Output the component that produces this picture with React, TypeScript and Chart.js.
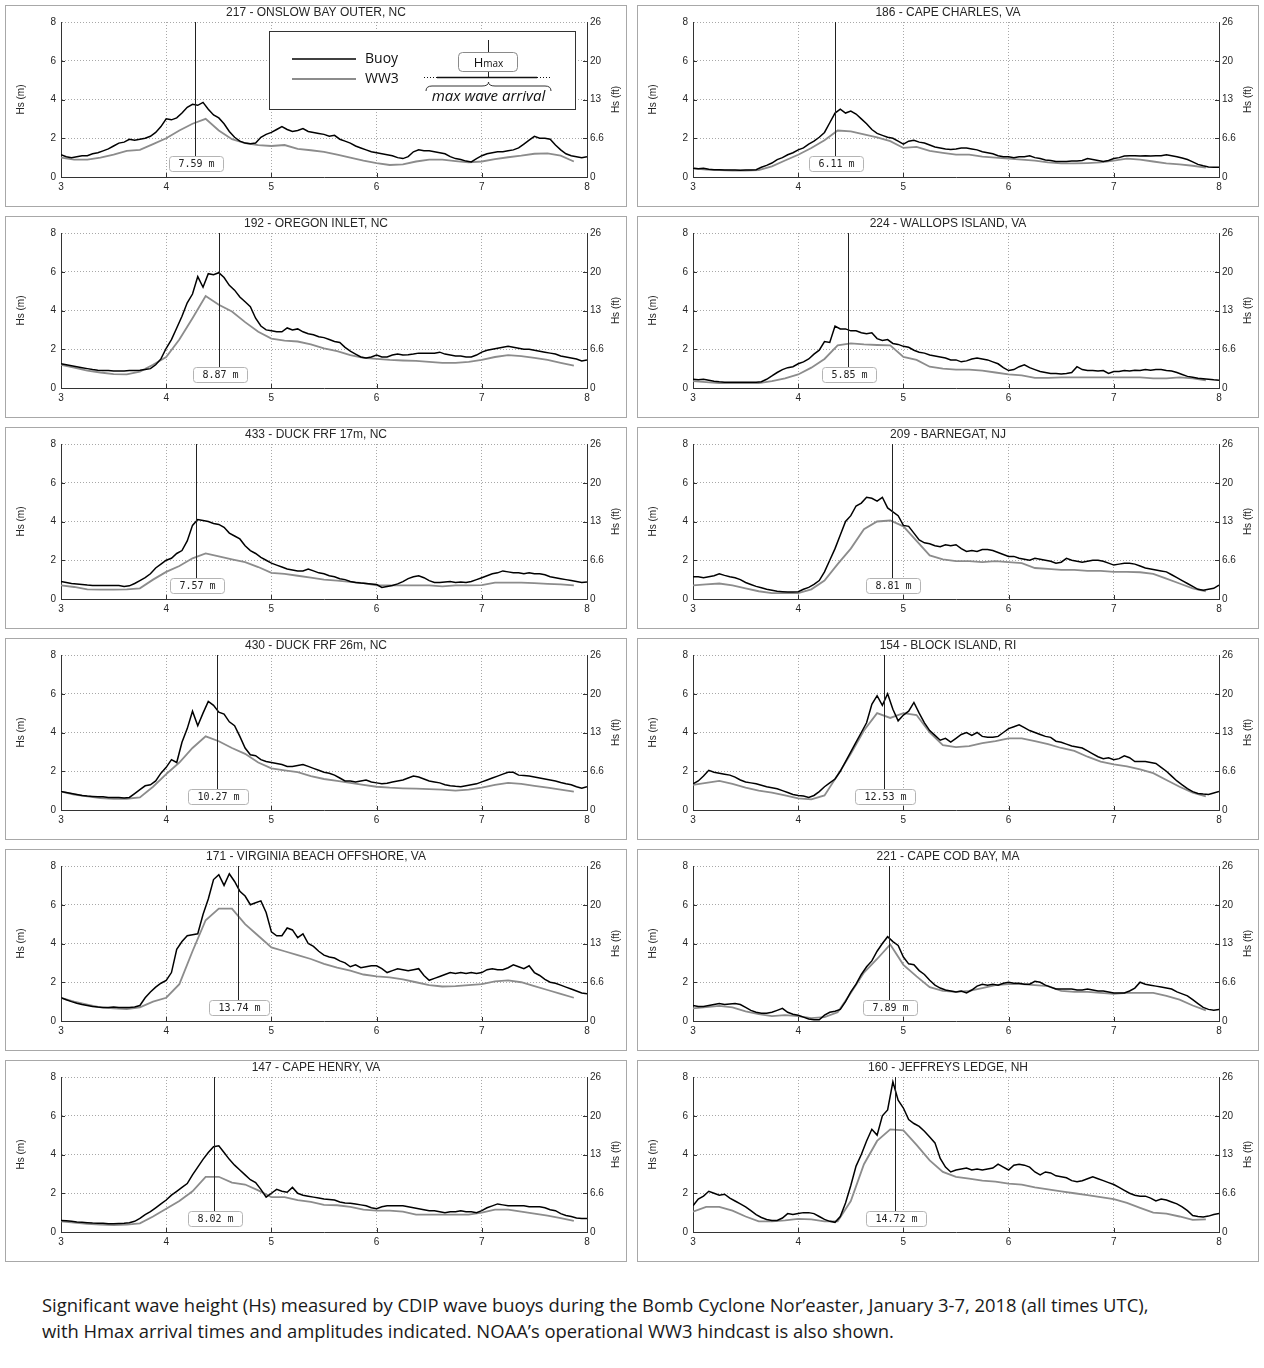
import React, { useEffect, useRef } from 'react';
import { Chart, registerables } from 'chart.js';

Chart.register(...registerables);

// ---------- data ----------
const T_START = 3;
const BUOY_STEP = 0.05; // days between buoy samples
const WW3_STEP = 0.125; // days between WW3 samples (3-hourly)
const FT_TICK_LABELS = ['0', '6.6', '13', '20', '26'];

const TITLES = [
  '217 - ONSLOW BAY OUTER, NC', '186 - CAPE CHARLES, VA',
  '192 - OREGON INLET, NC', '224 - WALLOPS ISLAND, VA',
  '433 - DUCK FRF 17m, NC', '209 - BARNEGAT, NJ',
  '430 - DUCK FRF 26m, NC', '154 - BLOCK ISLAND, RI',
  '171 - VIRGINIA BEACH OFFSHORE, VA', '221 - CAPE COD BAY, MA',
  '147 - CAPE HENRY, VA', '160 - JEFFREYS LEDGE, NH',
];
const HMAX_TIMES = [4.27, 4.35, 4.5, 4.47, 4.28, 4.89, 4.48, 4.82, 4.68, 4.86, 4.45, 4.92];
const HMAX_LABELS = ['7.59 m', '6.11 m', '8.87 m', '5.85 m', '7.57 m', '8.81 m', '10.27 m', '12.53 m', '13.74 m', '7.89 m', '8.02 m', '14.72 m'];

const BUOY_217 = [
  1.15, 1.05, 1.0, 1.05, 1.1, 1.1, 1.2, 1.25, 1.35, 1.45,
  1.6, 1.75, 1.8, 1.95, 1.9, 1.95, 2.0, 2.1, 2.3, 2.6,
  3.0, 2.95, 3.05, 3.3, 3.6, 3.75, 3.7, 3.85, 3.5, 3.2,
  3.05, 2.75, 2.35, 2.05, 1.85, 1.75, 1.72, 1.75, 2.05, 2.2,
  2.3, 2.45, 2.6, 2.45, 2.35, 2.4, 2.5, 2.35, 2.3, 2.25,
  2.2, 2.1, 2.15, 1.95, 1.85, 1.75, 1.6, 1.5, 1.4, 1.3,
  1.25, 1.2, 1.15, 1.1, 1.0, 0.95, 1.05, 1.3, 1.4, 1.35,
  1.35, 1.3, 1.25, 1.2, 1.05, 0.95, 0.9, 0.82, 0.78, 0.95,
  1.1, 1.2, 1.25, 1.3, 1.3, 1.35, 1.4, 1.5, 1.7, 1.9,
  2.1, 2.0, 2.0, 1.95, 1.65, 1.4, 1.2, 1.1, 1.05, 1.0,
  1.05,
];
const WW3_217 = [
  1.0, 0.9, 0.9, 1.0, 1.15, 1.35, 1.4, 1.7,
  2.0, 2.4, 2.75, 3.0, 2.4, 1.95, 1.75, 1.65,
  1.6, 1.65, 1.45, 1.38, 1.3, 1.15, 1.0, 0.85,
  0.72, 0.62, 0.65, 0.8, 0.9, 0.9, 0.82, 0.75,
  0.8, 0.92, 1.02, 1.1, 1.2, 1.22, 1.1, 0.8,
];

const BUOY_186 = [
  0.45, 0.42, 0.45, 0.4, 0.38, 0.38, 0.36, 0.36, 0.36, 0.35,
  0.36, 0.36, 0.38, 0.5, 0.6, 0.72, 0.9, 1.0, 1.15, 1.25,
  1.4, 1.5, 1.7, 1.85, 2.05, 2.3, 2.8, 3.3, 3.5, 3.3,
  3.4, 3.25, 3.0, 2.75, 2.45, 2.25, 2.15, 2.05, 2.0, 1.85,
  1.7, 1.85, 1.9, 1.8, 1.75, 1.65, 1.55, 1.5, 1.45, 1.42,
  1.45, 1.5, 1.5, 1.45, 1.4, 1.3, 1.25, 1.2, 1.1, 1.05,
  1.05, 1.0, 1.05, 1.05, 1.1, 1.0, 0.95, 0.88, 0.85, 0.8,
  0.8, 0.8, 0.82, 0.82, 0.85, 0.95, 0.9, 0.85, 0.8, 0.85,
  0.95, 1.0, 1.08, 1.1, 1.1, 1.08, 1.1, 1.08, 1.1, 1.1,
  1.15, 1.1, 1.05, 0.98, 0.9, 0.78, 0.65, 0.58, 0.52, 0.5,
  0.5,
];
const WW3_186 = [
  0.45, 0.38, 0.35, 0.33, 0.33, 0.35, 0.55, 0.85,
  1.15, 1.5, 1.9, 2.4, 2.35, 2.2, 2.05, 1.85,
  1.5, 1.55, 1.35, 1.25, 1.15, 1.15, 1.05, 1.0,
  0.95, 0.9, 0.85, 0.75, 0.7, 0.7, 0.72, 0.75,
  0.85, 0.95, 0.9, 0.8, 0.7, 0.65, 0.58, 0.48,
];

const BUOY_192 = [
  1.25, 1.2, 1.15, 1.1, 1.05, 1.0, 0.95, 0.92, 0.9, 0.9,
  0.88, 0.88, 0.88, 0.9, 0.9, 0.92, 0.95, 1.0, 1.2, 1.5,
  2.05, 2.5, 3.1, 3.7, 4.4, 4.85, 5.75, 5.2, 5.9, 5.85,
  5.95, 5.7, 5.3, 5.05, 4.7, 4.45, 4.2, 3.6, 3.2, 3.0,
  2.95, 2.9, 2.9, 3.1, 3.0, 3.05, 2.9, 2.8, 2.75, 2.65,
  2.6, 2.5, 2.4, 2.35, 2.1, 1.9, 1.75, 1.6, 1.55, 1.6,
  1.7, 1.6, 1.6, 1.7, 1.75, 1.7, 1.72, 1.75, 1.8, 1.8,
  1.8, 1.8, 1.85, 1.75, 1.7, 1.65, 1.65, 1.6, 1.6, 1.7,
  1.85, 1.95, 2.0, 2.05, 2.1, 2.15, 2.1, 2.05, 2.0, 2.0,
  1.95, 1.9, 1.85, 1.8, 1.75, 1.65, 1.6, 1.55, 1.5, 1.4,
  1.45,
];
const WW3_192 = [
  1.2, 1.05, 0.9, 0.8, 0.72, 0.7, 0.85, 1.2,
  1.6, 2.5, 3.6, 4.75, 4.3, 3.95, 3.4, 2.9,
  2.55, 2.45, 2.4, 2.25, 2.05, 1.9, 1.7, 1.55,
  1.5, 1.45, 1.42, 1.4, 1.35, 1.3, 1.3, 1.35,
  1.45, 1.6, 1.7, 1.65, 1.55, 1.45, 1.3, 1.15,
];

const BUOY_224 = [
  0.45, 0.42, 0.45, 0.4, 0.35, 0.32, 0.3, 0.3, 0.3, 0.3,
  0.3, 0.3, 0.3, 0.32, 0.45, 0.62, 0.8, 0.95, 1.05, 1.1,
  1.25, 1.35, 1.5, 1.75, 1.95, 2.4, 2.35, 3.2, 3.05, 3.05,
  2.95, 2.95, 2.85, 2.8, 2.85, 2.55, 2.45, 2.5, 2.3, 2.25,
  2.15, 2.1, 1.95, 1.85, 1.8, 1.7, 1.65, 1.6, 1.55, 1.45,
  1.45, 1.35, 1.4, 1.5, 1.55, 1.5, 1.45, 1.35, 1.25, 1.05,
  0.9, 0.95, 1.1, 1.2, 1.05, 0.95, 0.85, 0.8, 0.75, 0.75,
  0.72, 0.75, 0.8, 1.1, 0.95, 0.9, 0.9, 0.88, 0.9, 0.75,
  0.85, 0.85, 0.9, 0.88, 0.92, 0.9, 0.95, 0.92, 0.95, 0.95,
  0.9, 0.88, 0.8, 0.7, 0.6, 0.55, 0.5, 0.48, 0.45, 0.42,
  0.4,
];
const WW3_224 = [
  0.35, 0.3, 0.25, 0.25, 0.25, 0.25, 0.35, 0.5,
  0.7, 1.05, 1.5, 2.2, 2.3, 2.25, 2.22, 2.2,
  1.6, 1.45, 1.1, 1.0, 0.95, 0.95, 0.9, 0.8,
  0.7, 0.65, 0.52, 0.52, 0.55, 0.55, 0.55, 0.55,
  0.55, 0.55, 0.55, 0.5, 0.5, 0.55, 0.5, 0.4,
];

const BUOY_433 = [
  0.9, 0.85, 0.8, 0.78, 0.75, 0.72, 0.7, 0.7, 0.7, 0.7,
  0.7, 0.7, 0.65, 0.68, 0.8, 0.95, 1.1, 1.3, 1.6, 1.8,
  2.0, 2.1, 2.35, 2.5, 3.0, 3.8, 4.1, 4.05, 4.0, 3.9,
  3.85, 3.7, 3.4, 3.25, 3.1, 2.75, 2.5, 2.35, 2.15, 2.0,
  1.85, 1.75, 1.65, 1.55, 1.5, 1.45, 1.45, 1.55, 1.45, 1.35,
  1.3, 1.2, 1.15, 1.05, 1.0, 0.9, 0.85, 0.82, 0.8, 0.78,
  0.75, 0.6, 0.65, 0.7, 0.78, 0.9, 1.05, 1.15, 1.2, 1.1,
  0.95, 0.85, 0.85, 0.88, 0.9, 0.85, 0.88, 0.85, 0.9, 1.0,
  1.1, 1.2, 1.3, 1.35, 1.45, 1.4, 1.35, 1.35, 1.3, 1.35,
  1.3, 1.3, 1.25, 1.15, 1.1, 1.05, 1.0, 0.95, 0.9, 0.85,
  0.88,
];
const WW3_433 = [
  0.7, 0.62, 0.5, 0.48, 0.48, 0.5, 0.55, 1.0,
  1.4, 1.7, 2.1, 2.35, 2.2, 2.05, 1.9, 1.65,
  1.35, 1.3, 1.2, 1.1, 1.0, 0.95, 0.88, 0.82,
  0.7, 0.7, 0.7, 0.7, 0.7, 0.65, 0.7, 0.7,
  0.72, 0.85, 0.85, 0.85, 0.82, 0.78, 0.75, 0.7,
];

const BUOY_209 = [
  1.15, 1.15, 1.1, 1.15, 1.2, 1.3, 1.22, 1.15, 1.1, 1.0,
  0.85, 0.75, 0.65, 0.58, 0.5, 0.45, 0.4, 0.38, 0.36, 0.36,
  0.38, 0.5, 0.6, 0.75, 0.95, 1.4, 2.0, 2.6, 3.3, 4.0,
  4.3, 4.8, 4.95, 5.25, 5.2, 5.05, 5.25, 4.7, 4.5, 4.3,
  3.8, 3.75, 3.4, 3.05, 2.9, 2.85, 2.75, 2.7, 2.8, 2.75,
  2.8, 2.6, 2.45, 2.5, 2.45, 2.55, 2.55, 2.5, 2.4, 2.3,
  2.2, 2.2, 2.1, 2.05, 2.0, 2.1, 2.05, 2.0, 1.95, 1.85,
  1.9, 2.1, 2.0, 1.95, 1.9, 1.95, 2.0, 2.0, 1.95, 1.85,
  1.75, 1.8, 1.85, 1.85, 1.8, 1.7, 1.6, 1.55, 1.5, 1.45,
  1.4, 1.25, 1.1, 0.95, 0.8, 0.65, 0.5, 0.45, 0.5, 0.55,
  0.72,
];
const WW3_209 = [
  0.7, 0.75, 0.8, 0.7, 0.55, 0.4, 0.3, 0.3,
  0.3, 0.5, 0.95, 1.8, 2.6, 3.6, 4.0, 4.05,
  3.75, 3.0, 2.25, 2.05, 1.95, 1.95, 1.9, 1.95,
  1.9, 1.85, 1.6, 1.55, 1.5, 1.5, 1.45, 1.45,
  1.4, 1.4, 1.38, 1.3, 1.05, 0.8, 0.55, 0.4,
];

const BUOY_430 = [
  0.95, 0.9, 0.85, 0.8, 0.75, 0.72, 0.7, 0.68, 0.68, 0.65,
  0.65, 0.65, 0.62, 0.65, 0.85, 1.05, 1.25, 1.3, 1.5, 1.9,
  2.2, 2.6, 2.45, 3.5, 4.2, 5.1, 4.35, 5.0, 5.6, 5.4,
  5.05, 4.95, 4.55, 4.35, 3.8, 3.2, 2.85, 2.8, 2.6, 2.5,
  2.45, 2.4, 2.35, 2.25, 2.25, 2.3, 2.35, 2.25, 2.15, 2.05,
  1.95, 1.9, 1.8, 1.65, 1.5, 1.5, 1.45, 1.5, 1.55, 1.45,
  1.4, 1.35, 1.38, 1.45, 1.5, 1.55, 1.65, 1.75, 1.7, 1.6,
  1.5, 1.45, 1.4, 1.3, 1.25, 1.22, 1.2, 1.25, 1.3, 1.35,
  1.45, 1.55, 1.65, 1.75, 1.85, 1.95, 1.95, 1.8, 1.78, 1.75,
  1.7, 1.65, 1.6, 1.55, 1.5, 1.42, 1.35, 1.3, 1.2, 1.12,
  1.2,
];
const WW3_430 = [
  0.95, 0.8, 0.7, 0.62, 0.58, 0.58, 0.65, 1.2,
  1.85, 2.45, 3.2, 3.8, 3.55, 3.2, 2.9, 2.45,
  2.15, 2.05, 1.95, 1.75, 1.6, 1.5, 1.4, 1.3,
  1.2, 1.15, 1.12, 1.1, 1.08, 1.05, 1.0, 1.05,
  1.15, 1.3, 1.4, 1.35, 1.25, 1.15, 1.05, 0.95,
];

const BUOY_154 = [
  1.35, 1.5, 1.75, 2.05, 1.95, 1.9, 1.85, 1.8, 1.7, 1.55,
  1.45, 1.4, 1.35, 1.28, 1.2, 1.15, 1.1, 1.0, 0.9, 0.8,
  0.75, 0.72, 0.65, 0.75, 0.95, 1.2, 1.4, 1.6, 2.0, 2.5,
  3.0, 3.5, 4.0, 4.5, 5.45, 5.9, 5.4, 6.0, 5.2, 4.6,
  4.9, 5.1, 5.55, 5.0, 4.5, 4.1, 3.85, 3.6, 3.7, 3.5,
  3.7, 3.9, 4.0, 3.85, 4.0, 3.8, 3.75, 3.75, 3.8, 4.0,
  4.2, 4.3, 4.4, 4.25, 4.1, 4.0, 3.9, 3.8, 3.75, 3.55,
  3.5, 3.4, 3.3, 3.25, 3.2, 3.05, 2.9, 2.75, 2.65, 2.7,
  2.6, 2.65, 2.8, 2.7, 2.5, 2.5, 2.5, 2.45, 2.4, 2.2,
  2.0, 1.75, 1.5, 1.3, 1.1, 0.95, 0.85, 0.82, 0.8, 0.88,
  0.95,
];
const WW3_154 = [
  1.3, 1.4, 1.5, 1.35, 1.15, 1.0, 0.9, 0.75,
  0.6, 0.55, 0.75, 1.8, 2.9, 4.1, 5.0, 4.75,
  5.0, 4.9, 4.0, 3.35, 3.25, 3.3, 3.45, 3.55,
  3.7, 3.7, 3.55, 3.4, 3.2, 3.05, 2.75, 2.5,
  2.35, 2.25, 2.1, 1.9, 1.55, 1.2, 0.9, 0.7,
];

const BUOY_171 = [
  1.2, 1.1, 1.0, 0.92, 0.85, 0.8, 0.75, 0.72, 0.7, 0.7,
  0.72, 0.7, 0.7, 0.7, 0.72, 0.8, 1.2, 1.5, 1.75, 1.95,
  2.1, 2.5, 3.7, 4.1, 4.4, 4.45, 4.5, 5.5, 6.3, 7.3,
  7.55, 7.0, 7.6, 7.2, 6.7, 6.45, 6.0, 6.1, 6.2, 5.6,
  4.6, 4.4, 4.4, 4.8, 4.7, 4.3, 4.5, 4.0, 3.85, 3.6,
  3.4, 3.3, 3.25, 3.1, 3.0, 2.8, 2.9, 2.75, 2.8, 2.85,
  2.85, 2.7, 2.5, 2.6, 2.7, 2.65, 2.6, 2.65, 2.7, 2.35,
  2.1, 2.2, 2.3, 2.4, 2.5, 2.45, 2.5, 2.45, 2.5, 2.45,
  2.5, 2.65, 2.7, 2.65, 2.65, 2.75, 2.9, 2.8, 2.7, 2.85,
  2.5, 2.35, 2.15, 2.0, 1.95, 1.85, 1.75, 1.65, 1.55, 1.45,
  1.4,
];
const WW3_171 = [
  1.2, 1.0, 0.85, 0.7, 0.65, 0.62, 0.7, 1.0,
  1.2, 1.9, 3.6, 5.2, 5.8, 5.8, 5.0, 4.4,
  3.8, 3.6, 3.4, 3.2, 2.95, 2.75, 2.6, 2.4,
  2.3, 2.25, 2.15, 2.0, 1.85, 1.78, 1.8, 1.85,
  1.9, 2.05, 2.1, 2.0, 1.8, 1.6, 1.4, 1.2,
];

const BUOY_221 = [
  0.8, 0.75, 0.75, 0.8, 0.85, 0.9, 0.85, 0.88, 0.9, 0.85,
  0.7, 0.55, 0.45, 0.4, 0.4, 0.45, 0.55, 0.65, 0.45, 0.35,
  0.3, 0.2, 0.1, 0.06, 0.06, 0.3, 0.45, 0.5, 0.6, 1.0,
  1.5, 1.9, 2.4, 2.8, 3.1, 3.6, 4.0, 4.35, 4.1, 3.9,
  3.3, 2.95, 2.9, 2.6, 2.4, 2.1, 1.85, 1.7, 1.6, 1.55,
  1.5, 1.55, 1.45, 1.6, 1.8, 1.9, 1.85, 1.9, 1.85, 1.95,
  2.0, 1.95, 1.95, 1.9, 1.9, 2.05, 2.0, 1.85, 1.75, 1.65,
  1.65, 1.65, 1.65, 1.6, 1.6, 1.65, 1.6, 1.55, 1.55, 1.5,
  1.45, 1.45, 1.45, 1.55, 1.7, 2.0, 1.9, 1.85, 1.8, 1.75,
  1.7, 1.65, 1.5, 1.4, 1.3, 1.1, 0.9, 0.7, 0.6, 0.55,
  0.6,
];
const WW3_221 = [
  0.65, 0.72, 0.78, 0.7, 0.5, 0.35, 0.25, 0.3,
  0.25, 0.15, 0.2, 0.45, 1.45, 2.5, 3.2, 3.95,
  2.9, 2.3, 1.75, 1.55, 1.5, 1.55, 1.7, 1.85,
  1.9, 1.9, 1.85, 1.8, 1.55, 1.5, 1.5, 1.45,
  1.4, 1.45, 1.45, 1.45, 1.3, 1.1, 0.8, 0.55,
];

const BUOY_147 = [
  0.6, 0.58, 0.55, 0.52, 0.5, 0.48, 0.46, 0.45, 0.45, 0.42,
  0.42, 0.44, 0.45, 0.48, 0.55, 0.7, 0.9, 1.05, 1.25, 1.45,
  1.65, 1.9, 2.1, 2.3, 2.5, 2.95, 3.35, 3.75, 4.1, 4.4,
  4.45, 4.1, 3.75, 3.45, 3.2, 2.95, 2.7, 2.55, 2.2, 1.8,
  2.0, 2.2, 2.1, 2.05, 2.3, 2.0, 1.9, 1.85, 1.8, 1.75,
  1.7, 1.68, 1.65, 1.55, 1.5, 1.48, 1.45, 1.4, 1.35, 1.25,
  1.2, 1.3, 1.35, 1.35, 1.35, 1.35, 1.3, 1.25, 1.2, 1.15,
  1.1, 1.1, 1.05, 1.0, 1.05, 1.05, 1.1, 1.05, 1.05, 1.0,
  1.1, 1.25, 1.35, 1.45, 1.4, 1.35, 1.35, 1.35, 1.35, 1.3,
  1.3, 1.3, 1.25, 1.15, 1.1, 0.95, 0.85, 0.8, 0.72, 0.7,
  0.7,
];
const WW3_147 = [
  0.55, 0.48, 0.42, 0.38, 0.35, 0.38, 0.45, 0.8,
  1.2, 1.6, 2.1, 2.85, 2.85, 2.55, 2.45, 2.15,
  1.8, 1.8, 1.65, 1.55, 1.4, 1.38, 1.3, 1.15,
  1.1, 1.1, 1.05, 0.9, 0.9, 0.9, 0.9, 0.9,
  1.0, 1.15, 1.15, 1.05, 0.95, 0.85, 0.72, 0.58,
];

const BUOY_160 = [
  1.35, 1.7, 1.85, 2.1, 2.0, 1.9, 1.95, 1.75, 1.6, 1.45,
  1.3, 1.1, 0.9, 0.75, 0.65, 0.6, 0.6, 0.72, 0.95, 0.9,
  0.95, 1.0, 1.0, 0.95, 0.8, 0.65, 0.55, 0.5, 0.8, 1.5,
  2.4, 3.4, 4.0, 4.7, 5.3, 5.0, 6.0, 6.3, 7.75, 6.8,
  6.4, 5.8, 5.6, 5.45, 5.2, 4.9, 4.6, 3.8, 3.35, 3.1,
  3.2, 3.25, 3.3, 3.2, 3.25, 3.2, 3.25, 3.3, 3.5, 3.35,
  3.2, 3.45, 3.5, 3.45, 3.35, 3.1, 2.95, 3.1, 3.05, 2.9,
  2.85, 2.8, 2.65, 2.6, 2.65, 2.75, 2.85, 2.75, 2.65, 2.55,
  2.45, 2.3, 2.15, 2.0, 1.9, 1.85, 1.85, 1.75, 1.6, 1.7,
  1.65, 1.55, 1.45, 1.3, 1.1, 0.85, 0.8, 0.78, 0.82, 0.9,
  0.95,
];
const WW3_160 = [
  1.05, 1.3, 1.3, 1.1, 0.8, 0.55, 0.55, 0.6,
  0.68, 0.65, 0.55, 0.55, 1.6, 3.5, 4.7, 5.3,
  5.25, 4.5, 3.7, 3.1, 2.85, 2.75, 2.65, 2.6,
  2.5, 2.45, 2.3, 2.2, 2.1, 2.0, 1.9, 1.8,
  1.7, 1.5, 1.25, 1.0, 0.95, 0.8, 0.63, 0.65,
];

const BUOY_SERIES = [BUOY_217, BUOY_186, BUOY_192, BUOY_224, BUOY_433, BUOY_209, BUOY_430, BUOY_154, BUOY_171, BUOY_221, BUOY_147, BUOY_160];
const WW3_SERIES = [WW3_217, WW3_186, WW3_192, WW3_224, WW3_433, WW3_209, WW3_430, WW3_154, WW3_171, WW3_221, WW3_147, WW3_160];

// ---------- styles ----------
const FONT = '"Liberation Sans", Arial, sans-serif';
const BUOY_COLOR = '#000000';
const WW3_COLOR = '#8c8c8c';
const GRID_COLOR = '#a8a8a8';
const AXIS_COLOR = '#333333';
const TEXT_COLOR = '#262626';
const CANVAS_W = 620;
const CANVAS_H = 200;

function drawLegend(ctx: CanvasRenderingContext2D) {
  ctx.save();
  ctx.fillStyle = '#ffffff';
  ctx.fillRect(263.5, 25.5, 306, 78);
  ctx.strokeStyle = '#333';
  ctx.lineWidth = 1;
  ctx.strokeRect(263.5, 25.5, 306, 78);

  ctx.lineWidth = 1.6;
  ctx.strokeStyle = BUOY_COLOR;
  ctx.beginPath(); ctx.moveTo(286, 53); ctx.lineTo(350, 53); ctx.stroke();
  ctx.strokeStyle = WW3_COLOR;
  ctx.lineWidth = 1.8;
  ctx.beginPath(); ctx.moveTo(286, 73); ctx.lineTo(350, 73); ctx.stroke();

  ctx.fillStyle = '#111';
  ctx.font = '14px "Open Sans", sans-serif';
  ctx.textAlign = 'left';
  ctx.textBaseline = 'middle';
  ctx.fillText('Buoy', 359, 53);
  ctx.fillText('WW3', 359, 73);

  const cx = 482.5;
  ctx.strokeStyle = '#222';
  ctx.lineWidth = 1;
  ctx.beginPath();
  ctx.moveTo(cx, 34); ctx.lineTo(cx, 46);
  ctx.moveTo(cx, 65); ctx.lineTo(cx, 71);
  ctx.stroke();

  ctx.beginPath();
  (ctx as any).roundRect(452.5, 46.5, 59, 19, 4);
  ctx.fillStyle = '#fff';
  ctx.fill();
  ctx.strokeStyle = '#8a8a8a';
  ctx.stroke();

  ctx.fillStyle = '#111';
  ctx.font = '13px "Open Sans", sans-serif';
  const wH = ctx.measureText('H').width;
  ctx.font = '10px "Open Sans", sans-serif';
  const wM = ctx.measureText('max').width;
  const start = cx - (wH + wM) / 2;
  ctx.textBaseline = 'alphabetic';
  ctx.font = '13px "Open Sans", sans-serif';
  ctx.fillText('H', start, 61);
  ctx.font = '10px "Open Sans", sans-serif';
  ctx.fillText('max', start + wH, 61);

  ctx.strokeStyle = '#111';
  ctx.lineWidth = 1.6;
  ctx.beginPath(); ctx.moveTo(431, 71.5); ctx.lineTo(531, 71.5); ctx.stroke();
  ctx.lineWidth = 1;
  ctx.setLineDash([1, 2]);
  ctx.beginPath();
  ctx.moveTo(418, 71.5); ctx.lineTo(431, 71.5);
  ctx.moveTo(531, 71.5); ctx.lineTo(545, 71.5);
  ctx.stroke();
  ctx.setLineDash([]);

  // brace
  ctx.strokeStyle = '#333';
  ctx.lineWidth = 1;
  ctx.beginPath();
  ctx.moveTo(420, 85);
  ctx.quadraticCurveTo(420, 80, 426, 80);
  ctx.lineTo(476, 80);
  ctx.quadraticCurveTo(cx, 80, cx, 76);
  ctx.quadraticCurveTo(cx, 80, 489, 80);
  ctx.lineTo(539, 80);
  ctx.quadraticCurveTo(545, 80, 545, 85);
  ctx.stroke();

  ctx.font = 'italic 15px "Open Sans", sans-serif';
  ctx.textAlign = 'center';
  ctx.textBaseline = 'middle';
  ctx.fillStyle = '#111';
  ctx.fillText('max wave arrival', cx, 91);
  ctx.restore();
}

const decorPlugin = {
  id: 'decor',
  afterDatasetsDraw(chart: any, _args: any, opts: any) {
    const { ctx, chartArea: ca, scales } = chart;
    const x = Math.round(scales.x.getPixelForValue(opts.hmaxTime)) + 0.5;
    ctx.save();
    ctx.font = '10px "DejaVu Sans Mono", monospace';
    const tw = ctx.measureText(opts.hmaxLabel).width;
    const w = Math.round(tw + 18);
    const h = 15;
    const by = ca.bottom - 21;
    const bx = Math.round(x - w / 2);
    ctx.strokeStyle = '#222';
    ctx.lineWidth = 1;
    ctx.beginPath();
    ctx.moveTo(x, ca.top);
    ctx.lineTo(x, by);
    ctx.stroke();
    ctx.beginPath();
    ctx.roundRect(bx + 0.5, by + 0.5, w, h, 3);
    ctx.fillStyle = '#fff';
    ctx.fill();
    ctx.strokeStyle = '#b4b4b4';
    ctx.stroke();
    ctx.fillStyle = '#222';
    ctx.textAlign = 'center';
    ctx.textBaseline = 'middle';
    ctx.fillText(opts.hmaxLabel, bx + 0.5 + w / 2, by + h / 2 + 1);
    ctx.restore();
  },
  afterDraw(chart: any, _args: any, opts: any) {
    const { ctx, chartArea: ca, scales } = chart;
    ctx.save();
    // inward tick marks
    ctx.strokeStyle = AXIS_COLOR;
    ctx.lineWidth = 1;
    ctx.beginPath();
    scales.x.ticks.forEach((t: any) => {
      if (t.value <= scales.x.min || t.value >= scales.x.max) return;
      const px = Math.round(scales.x.getPixelForValue(t.value)) + 0.5;
      ctx.moveTo(px, ca.bottom); ctx.lineTo(px, ca.bottom - 4);
    });
    scales.y.ticks.forEach((t: any) => {
      if (t.value <= scales.y.min || t.value >= scales.y.max) return;
      const py = Math.round(scales.y.getPixelForValue(t.value)) + 0.5;
      ctx.moveTo(ca.left, py); ctx.lineTo(ca.left + 4, py);
      ctx.moveTo(ca.right, py); ctx.lineTo(ca.right - 4, py);
    });
    ctx.stroke();

    // panel title
    ctx.fillStyle = TEXT_COLOR;
    ctx.font = '12px ' + FONT;
    ctx.textAlign = 'center';
    ctx.textBaseline = 'middle';
    ctx.fillText(opts.title, chart.width / 2, 7);

    // axis titles
    const midY = (ca.top + ca.bottom) / 2;
    ctx.font = '10px ' + FONT;
    ctx.save();
    ctx.translate(15, midY);
    ctx.rotate(-Math.PI / 2);
    ctx.fillText('Hs (m)', 0, 0);
    ctx.restore();
    ctx.save();
    ctx.translate(610, midY);
    ctx.rotate(-Math.PI / 2);
    ctx.fillText('Hs (ft)', 0, 0);
    ctx.restore();
    ctx.restore();

    if (opts.legend) drawLegend(ctx);
  },
};

function Panel({ index }: { index: number }) {
  const ref = useRef<HTMLCanvasElement>(null);
  useEffect(() => {
    const buoy = BUOY_SERIES[index].map((v, i) => ({ x: T_START + i * BUOY_STEP, y: v }));
    const ww3 = WW3_SERIES[index].map((v, i) => ({ x: T_START + i * WW3_STEP, y: v }));
    const tickFont = { family: FONT, size: 10 };
    const chart = new Chart(ref.current as HTMLCanvasElement, {
      type: 'line',
      data: {
        datasets: [
          { label: 'Buoy', data: buoy, borderColor: BUOY_COLOR, borderWidth: 1.5, pointRadius: 0, tension: 0, fill: false },
          { label: 'WW3', data: ww3, borderColor: WW3_COLOR, borderWidth: 1.8, pointRadius: 0, tension: 0, fill: false },
        ],
      },
      options: {
        responsive: false,
        maintainAspectRatio: false,
        animation: false,
        events: [],
        layout: { padding: { top: 16, left: 0, right: 0, bottom: 0 } },
        plugins: {
          legend: { display: false },
          tooltip: { enabled: false },
          title: { display: false },
          decor: {
            title: TITLES[index],
            hmaxTime: HMAX_TIMES[index],
            hmaxLabel: HMAX_LABELS[index],
            legend: index === 0,
          },
        } as any,
        scales: {
          x: {
            type: 'linear',
            min: 3,
            max: 8,
            afterFit: (s: any) => { s.height = 29; },
            ticks: { stepSize: 1, color: TEXT_COLOR, font: tickFont, padding: 4, maxRotation: 0 },
            grid: { color: GRID_COLOR, lineWidth: 1, drawTicks: false },
            border: { color: AXIS_COLOR, width: 1, dash: [1, 2] },
          },
          y: {
            position: 'left',
            min: 0,
            max: 8,
            afterFit: (s: any) => { s.width = 55; },
            ticks: { stepSize: 2, color: TEXT_COLOR, font: tickFont, padding: 5 },
            grid: { color: GRID_COLOR, lineWidth: 1, drawTicks: false },
            border: { color: AXIS_COLOR, width: 1, dash: [1, 2] },
          },
          y2: {
            position: 'right',
            min: 0,
            max: 8,
            afterFit: (s: any) => { s.width = 39; },
            ticks: {
              stepSize: 2,
              color: TEXT_COLOR,
              font: tickFont,
              padding: 3,
              callback: (v: any) => FT_TICK_LABELS[Math.round(Number(v) / 2)],
            },
            grid: { drawOnChartArea: false, drawTicks: false },
            border: { color: AXIS_COLOR, width: 1 },
          },
        } as any,
      },
      plugins: [decorPlugin as any],
    });
    return () => chart.destroy();
  }, [index]);

  const col = index % 2;
  const row = Math.floor(index / 2);
  return (
    <div
      style={{
        position: 'absolute',
        left: 5 + col * 632,
        top: 5 + row * 211,
        width: 622,
        height: 202,
        boxSizing: 'border-box',
        border: '1px solid #a8a8a8',
        background: '#fff',
      }}
    >
      <canvas ref={ref} width={CANVAS_W} height={CANVAS_H} style={{ display: 'block', width: CANVAS_W, height: CANVAS_H }} />
    </div>
  );
}

export default function App() {
  return (
    <div style={{ position: 'absolute', left: 0, top: 0, width: 1264, height: 1368, background: '#fff' }}>
      {TITLES.map((_, i) => (
        <Panel key={i} index={i} />
      ))}
      <div
        style={{
          position: 'absolute',
          left: 42,
          top: 1292,
          fontFamily: '"Open Sans", sans-serif',
          fontSize: 18.4,
          lineHeight: '26px',
          color: '#1a1a1a',
          whiteSpace: 'nowrap',
        }}
      >
        Significant wave height (Hs) measured by CDIP wave buoys during the Bomb Cyclone Nor’easter, January 3-7, 2018 (all times UTC),
        <br />
        with Hmax arrival times and amplitudes indicated. NOAA’s operational WW3 hindcast is also shown.
      </div>
    </div>
  );
}
